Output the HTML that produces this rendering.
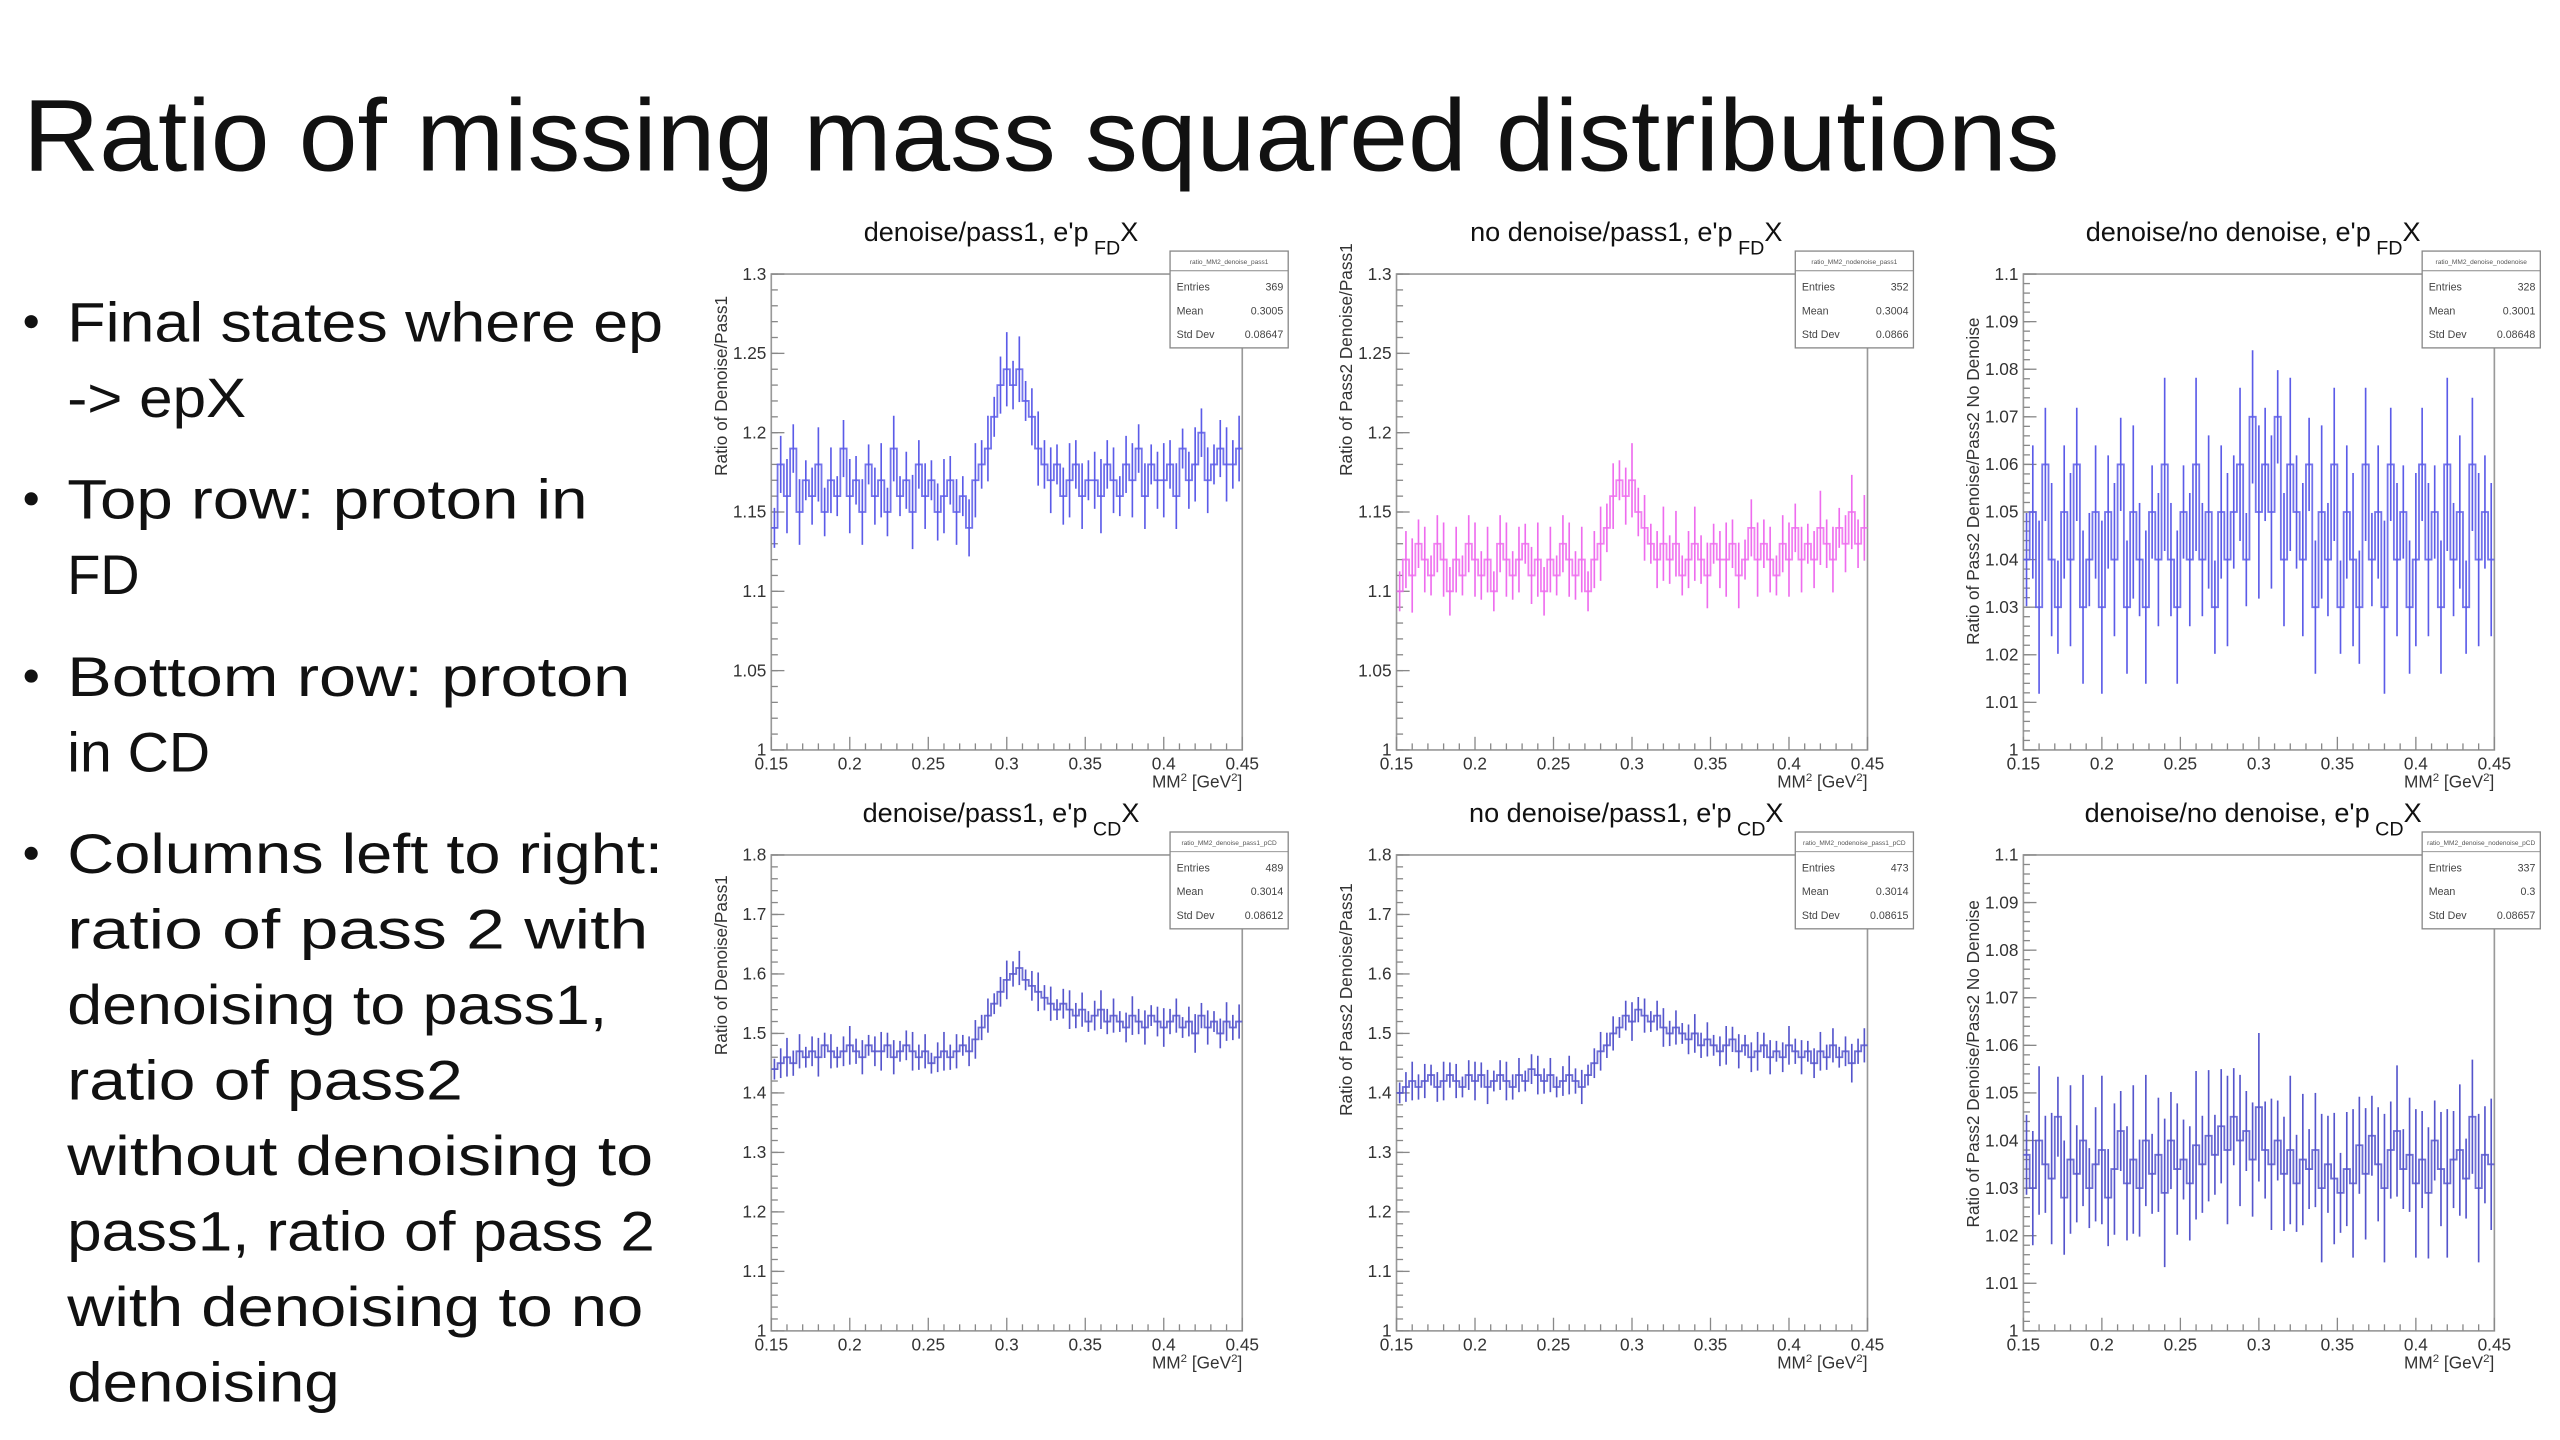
<!DOCTYPE html>
<html><head><meta charset="utf-8"><style>
html,body{margin:0;padding:0;background:#fff;}
svg{display:block;}
text{font-family:"Liberation Sans",sans-serif;}
</style></head><body>
<svg id="s" width="2560" height="1440" viewBox="0 0 1560 877.5" xmlns="http://www.w3.org/2000/svg">
<rect width="1560" height="877.5" fill="#fff"/>
<text x="14" y="104" font-size="62" textLength="1241" lengthAdjust="spacingAndGlyphs" fill="#111">Ratio of missing mass squared distributions</text>
<g id="bul" font-size="34" fill="#111"></g>
<g id="charts"></g>
</svg>
<script>
// ---- chart data ----
const xMin = 0.15, xMax = 0.45;
const xTicks = ["0.15","0.2","0.25","0.3","0.35","0.4","0.45"];
const yTicksTop = ["1","1.05","1.1","1.15","1.2","1.25","1.3"];
const yTicksNarrow = ["1","1.01","1.02","1.03","1.04","1.05","1.06","1.07","1.08","1.09","1.1"];
const yTicksBottom = ["1","1.1","1.2","1.3","1.4","1.5","1.6","1.7","1.8"];
const titles = ["denoise/pass1, e'p","no denoise/pass1, e'p","denoise/no denoise, e'p","denoise/pass1, e'p","no denoise/pass1, e'p","denoise/no denoise, e'p"];
const subs = ["FD","FD","FD","CD","CD","CD"];
const statNames = ["ratio_MM2_denoise_pass1","ratio_MM2_nodenoise_pass1","ratio_MM2_denoise_nodenoise","ratio_MM2_denoise_pass1_pCD","ratio_MM2_nodenoise_pass1_pCD","ratio_MM2_denoise_nodenoise_pCD"];
const entries = ["369","352","328","489","473","337"];
const means = ["0.3005","0.3004","0.3001","0.3014","0.3014","0.3"];
const stddevs = ["0.08647","0.0866","0.08648","0.08612","0.08615","0.08657"];
const yTitles = ["Ratio of Denoise/Pass1","Ratio of Pass2 Denoise/Pass1","Ratio of Pass2 Denoise/Pass2 No Denoise","Ratio of Denoise/Pass1","Ratio of Pass2 Denoise/Pass1","Ratio of Pass2 Denoise/Pass2 No Denoise"];
const errs = [0.018,0.018,0.014,0.025,0.025,0.012];
const s1 = [1.14,1.18,1.16,1.19,1.15,1.17,1.16,1.18,1.15,1.17,1.16,1.19,1.16,1.17,1.15,1.18,1.16,1.17,1.15,1.19,1.16,1.17,1.15,1.18,1.16,1.17,1.15,1.16,1.17,1.15,1.16,1.14,1.17,1.18,1.19,1.21,1.23,1.24,1.23,1.24,1.22,1.21,1.19,1.18,1.17,1.18,1.16,1.17,1.18,1.16,1.17,1.17,1.16,1.18,1.17,1.16,1.18,1.17,1.19,1.16,1.18,1.17,1.17,1.18,1.16,1.19,1.17,1.18,1.20,1.17,1.18,1.19,1.18,1.18,1.19];
const s2 = [1.10,1.12,1.11,1.13,1.12,1.11,1.13,1.12,1.10,1.12,1.11,1.13,1.12,1.11,1.12,1.10,1.13,1.12,1.11,1.12,1.13,1.11,1.12,1.10,1.12,1.11,1.13,1.12,1.11,1.12,1.10,1.12,1.13,1.14,1.16,1.17,1.16,1.17,1.15,1.14,1.13,1.12,1.13,1.12,1.13,1.11,1.12,1.13,1.12,1.11,1.13,1.12,1.12,1.13,1.11,1.12,1.14,1.12,1.13,1.12,1.11,1.13,1.12,1.14,1.12,1.13,1.12,1.14,1.13,1.12,1.14,1.13,1.15,1.13,1.14];
const s3 = [1.04,1.05,1.03,1.06,1.04,1.03,1.05,1.04,1.06,1.03,1.04,1.05,1.03,1.05,1.04,1.06,1.03,1.05,1.04,1.03,1.05,1.04,1.06,1.04,1.03,1.05,1.04,1.06,1.04,1.05,1.03,1.05,1.04,1.05,1.06,1.04,1.07,1.05,1.06,1.05,1.07,1.04,1.06,1.05,1.04,1.06,1.03,1.05,1.04,1.06,1.03,1.05,1.04,1.03,1.06,1.04,1.05,1.03,1.06,1.04,1.05,1.03,1.04,1.06,1.04,1.05,1.03,1.06,1.04,1.05,1.03,1.06,1.04,1.05,1.04];
const s4 = [1.44,1.45,1.46,1.45,1.47,1.46,1.47,1.46,1.48,1.47,1.46,1.47,1.48,1.47,1.46,1.48,1.47,1.47,1.48,1.46,1.47,1.48,1.47,1.46,1.47,1.45,1.46,1.47,1.46,1.47,1.48,1.47,1.49,1.51,1.53,1.55,1.57,1.59,1.60,1.61,1.59,1.58,1.57,1.56,1.55,1.54,1.55,1.54,1.53,1.54,1.52,1.53,1.54,1.52,1.53,1.52,1.51,1.53,1.52,1.51,1.53,1.52,1.51,1.52,1.53,1.51,1.52,1.50,1.53,1.51,1.52,1.50,1.52,1.51,1.52];
const s5 = [1.40,1.41,1.42,1.41,1.42,1.43,1.41,1.42,1.43,1.42,1.41,1.43,1.42,1.43,1.41,1.42,1.43,1.42,1.41,1.43,1.42,1.44,1.43,1.42,1.43,1.41,1.42,1.43,1.42,1.41,1.43,1.45,1.47,1.48,1.50,1.51,1.53,1.52,1.54,1.53,1.52,1.53,1.51,1.50,1.51,1.50,1.49,1.50,1.48,1.49,1.48,1.47,1.48,1.49,1.47,1.48,1.46,1.47,1.48,1.46,1.47,1.46,1.48,1.47,1.46,1.47,1.45,1.47,1.46,1.48,1.46,1.47,1.45,1.47,1.48];
const s6 = [1.037,1.03,1.04,1.035,1.032,1.045,1.028,1.036,1.033,1.04,1.03,1.035,1.038,1.028,1.034,1.042,1.031,1.036,1.03,1.04,1.033,1.037,1.029,1.04,1.034,1.036,1.031,1.039,1.035,1.041,1.037,1.043,1.038,1.045,1.04,1.042,1.036,1.047,1.038,1.035,1.04,1.033,1.038,1.031,1.036,1.034,1.038,1.03,1.035,1.032,1.029,1.034,1.031,1.039,1.033,1.041,1.035,1.03,1.038,1.042,1.034,1.037,1.031,1.036,1.029,1.04,1.034,1.031,1.036,1.038,1.032,1.045,1.03,1.037,1.035];
const series = [s1,s2,s3,s4,s5,s6];
const bulletLines = [
 ["Final states where ep",208,true,363],["-> epX",254,false,109],
 ["Top row: proton in",316,true,317],["FD",362,false,44],
 ["Bottom row: proton",424,true,343],["in CD",470,false,87],
 ["Columns left to right:",532,true,363],["ratio of pass 2 with",578,false,354],
 ["denoising to pass1,",624,false,329],["ratio of pass2",670,false,241],
 ["without denoising to",716,false,357],["pass1, ratio of pass 2",762,false,358],
 ["with denoising to no",808,false,351],["denoising",854,false,166]];
</script>
<script>
const NS = "http://www.w3.org/2000/svg";
function mk(tag, attrs, parent){const e=document.createElementNS(NS,tag);for(const k in attrs)e.setAttribute(k,attrs[k]);parent.appendChild(e);return e;}
const bul = document.getElementById('bul');
bulletLines.forEach((b)=>{
  if(b[2]){const c=mk('circle',{cx:19,cy:b[1]-12,r:4,fill:'#111'},bul);
    
    }
  const t=mk('text',{x:41,y:b[1],textLength:b[3],lengthAdjust:'spacingAndGlyphs'},bul);
  
  
  t.textContent=b[0];
});
const charts=document.getElementById('charts');
const colX=[470,851,1233], rowY=[[167,457],[521,811]];
const yRanges=[[1,1.3],[1,1.3],[1,1.1],[1,1.8],[1,1.8],[1,1.1]];
const yTickSets=[yTicksTop,yTicksTop,yTicksNarrow,yTicksBottom,yTicksBottom,yTicksNarrow];
const minorY=[0.01,0.01,0.002,0.02,0.02,0.002];
const colors=['#5b5be8','#ee6cee','#5b5be8','#5555cc','#5555cc','#5555cc'];
for(let p=0;p<6;p++){
  const col=p%3,row=Math.floor(p/3);
  const L=colX[col],R=L+287,T=rowY[row][0],B=rowY[row][1];
  const [y0,y1]=yRanges[p];
  const X=v=>L+(v-xMin)/(xMax-xMin)*(R-L);
  const Y=v=>B-(v-y0)/(y1-y0)*(B-T);
  const g=mk('g',{},charts);
  
  
  const fr=mk('rect',{x:L,y:T,width:R-L,height:B-T,fill:'none',stroke:'#999','stroke-width':1},g);
  
  
  // x ticks
  for(let v=xMin;v<=xMax+1e-9;v+=0.01){
    const major=Math.abs(Math.round(v*20)-v*20)<1e-6;
    mk('line',{x1:X(v),x2:X(v),y1:B,y2:B-(major?8:4),stroke:'#888','stroke-width':0.8},g);
  }
  xTicks.forEach(s=>{const v=parseFloat(s);const t=mk('text',{x:X(v),y:B+12,'font-size':10.5,'text-anchor':'middle',fill:'#333'},g);
    
    
    t.textContent=s;});
  for(let v=y0;v<=y1+1e-9;v+=minorY[p]){mk('line',{x1:L,x2:L+4,y1:Y(v),y2:Y(v),stroke:'#888','stroke-width':0.8},g);}
  yTickSets[p].forEach(s=>{const v=parseFloat(s);
    mk('line',{x1:L,x2:L+8,y1:Y(v),y2:Y(v),stroke:'#888','stroke-width':0.8},g);
    const t=mk('text',{x:L-3,y:Y(v)+3.5,'font-size':10.5,'text-anchor':'end',fill:'#333'},g);
    
    
    t.textContent=s;});
  // x title
  const xt=mk('text',{x:R,y:B+23,'font-size':10.5,'text-anchor':'end',fill:'#333'},g);
  
  
  xt.innerHTML='MM<tspan font-size="7" dy="-4">2</tspan><tspan dy="4"> [GeV</tspan><tspan font-size="7" dy="-4">2</tspan><tspan dy="4">]</tspan>';
  // y title
  const yt=mk('text',{transform:`translate(${L-27},${row===0?(col===2?393:290):(col===0?643:(col===1?680:748))}) rotate(-90)`,'font-size':10.5,'text-anchor':'start',fill:'#333'},g);
  
  
  yt.textContent=yTitles[p];
  // title
  const tt=mk('text',{x:L+140,y:T-20,'font-size':16.5,'text-anchor':'middle',fill:'#111'},g);
  
  
  tt.innerHTML=titles[p]+'<tspan font-size="12" dy="8"> '+subs[p]+'</tspan><tspan dy="-8">X</tspan>';
  // series
  const d=series[p], n=d.length, w=(xMax-xMin)/n;
  let path='';
  d.forEach((v,i)=>{const xa=X(xMin+i*w),xb=X(xMin+(i+1)*w),yy=Y(v);path+=(i===0?'M':'L')+xa.toFixed(2)+','+yy.toFixed(2)+'L'+xb.toFixed(2)+','+yy.toFixed(2);});
  const ln=mk('path',{d:path,fill:'none',stroke:colors[p],'stroke-width':1.1,opacity:0.85},g);
  
  
  d.forEach((v,i)=>{const xc=X(xMin+(i+0.5)*w);const e=errs[p]*(0.7+0.6*((i*7)%5)/4);
    const eb=mk('line',{x1:xc,x2:xc,y1:Y(v-e),y2:Y(v+e),stroke:colors[p],'stroke-width':1},g);
    
    });
  // stats box
  const sg=mk('g',{},g);
  
  
  const bx=L+243,by=T-14,bw=72,bh=59;
  mk('rect',{x:bx,y:by,width:bw,height:bh,fill:'#fff',stroke:'#888','stroke-width':0.8},sg);
  mk('line',{x1:bx,x2:bx+bw,y1:by+12,y2:by+12,stroke:'#888','stroke-width':0.6},sg);
  mk('text',{x:bx+bw/2,y:by+8,'font-size':4,'text-anchor':'middle',fill:'#555'},sg).textContent=statNames[p];
  [["Entries",entries[p]],["Mean",means[p]],["Std Dev",stddevs[p]]].forEach((r,k)=>{
    mk('text',{x:bx+4,y:by+24+k*14.5,'font-size':6.5,fill:'#444'},sg).textContent=r[0];
    mk('text',{x:bx+bw-3,y:by+24+k*14.5,'font-size':6.5,'text-anchor':'end',fill:'#444'},sg).textContent=r[1];
  });
}
</script>
</body></html>
